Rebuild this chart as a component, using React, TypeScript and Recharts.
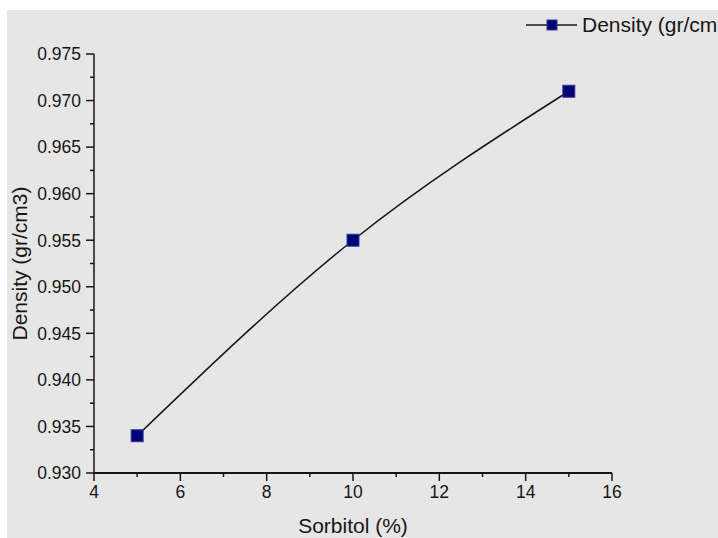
import { LineChart, Line, XAxis, YAxis, Legend } from "recharts"

const sorbitol = [5, 10, 15]
const density = [0.934, 0.955, 0.971]

const xMajor = [4, 6, 8, 10, 12, 14, 16]
const xMinor = [5, 7, 9, 11, 13, 15]
const yMajor = [0.93, 0.935, 0.94, 0.945, 0.95, 0.955, 0.96, 0.965, 0.97, 0.975]
const yMinor = [0.9325, 0.9375, 0.9425, 0.9475, 0.9525, 0.9575, 0.9625, 0.9675, 0.9725]

const seriesName = "Density (gr/cm3)"
const xTitle = "Sorbitol (%)"
const yTitle = "Density (gr/cm3)"

const data = sorbitol.map((x, i) => ({ x, y: density[i] }))

const FONT = "'Liberation Sans', Arial, sans-serif"
const INK = "#161616"
const TICK = 8
const GAP = 5

const isMajor = (list: number[], v: number) => list.some((m) => Math.abs(m - v) < 1e-7)

function YTick({ x, y, payload }: any) {
  const ax = x + TICK + GAP
  const major = isMajor(yMajor, payload.value)
  return (
    <g>
      <line x1={ax - (major ? TICK : 4)} x2={ax} y1={y} y2={y} stroke={INK} strokeWidth={1.5} />
      {major && (
        <text x={x} y={y} dy="0.36em" textAnchor="end" fontSize={17.5} fill={INK} fontFamily={FONT}>
          {payload.value.toFixed(3)}
        </text>
      )}
    </g>
  )
}

function XTick({ x, y, payload }: any) {
  const ay = y - TICK - GAP
  const major = isMajor(xMajor, payload.value)
  return (
    <g>
      <line x1={x} x2={x} y1={ay} y2={ay + (major ? TICK : 4)} stroke={INK} strokeWidth={1.5} />
      {major && (
        <text x={x} y={y} dy="0.71em" textAnchor="middle" fontSize={17.5} fill={INK} fontFamily={FONT}>
          {payload.value}
        </text>
      )}
    </g>
  )
}

function Square({ cx, cy }: any) {
  if (cx == null || cy == null) return null
  return <rect x={cx - 6} y={cy - 6} width={12} height={12} fill="#000078" stroke="#3a3a9a" strokeWidth={1} />
}

function YLabel({ viewBox }: any) {
  const cy = viewBox.y + viewBox.height / 2
  return (
    <text x={27} y={cy} transform={`rotate(-90, 27, ${cy})`} textAnchor="middle" fontSize={21} fill={INK} fontFamily={FONT}>
      {yTitle}
    </text>
  )
}

function XLabel({ viewBox }: any) {
  const cx = viewBox.x + viewBox.width / 2
  return (
    <text x={cx} y={533} textAnchor="middle" fontSize={21} fill={INK} fontFamily={FONT}>
      {xTitle}
    </text>
  )
}

function LegendBox() {
  return (
    <div style={{ display: "flex", alignItems: "center", whiteSpace: "nowrap" }}>
      <svg width={56} height={20}>
        <line x1={2} x2={53} y1={10} y2={10} stroke={INK} strokeWidth={1.5} />
        <rect x={23} y={5} width={10} height={10} fill="#000078" stroke="#3a3a9a" strokeWidth={1} />
      </svg>
      <span style={{ fontFamily: FONT, fontSize: 21, color: INK, marginLeft: 2 }}>{seriesName}</span>
    </div>
  )
}

export default function App() {
  return (
    <div style={{ position: "fixed", left: 0, top: 0, width: 718, height: 538, background: "#fff", overflow: "hidden" }}>
      <div style={{ position: "absolute", left: 7, top: 10, right: 0, bottom: 0, background: "#e6e6e6" }} />
      <div style={{ position: "absolute", left: 0, top: 0 }}>
        <LineChart width={718} height={538} data={data} margin={{ top: 54, right: 106, left: 0, bottom: 35 }}>
          <XAxis
            dataKey="x"
            type="number"
            domain={[4, 16]}
            ticks={[...xMajor, ...xMinor].sort((a, b) => a - b)}
            interval={0}
            height={30}
            tickSize={TICK}
            tickMargin={GAP}
            tickLine={false}
            tick={<XTick />}
            axisLine={{ stroke: INK, strokeWidth: 2 }}
            label={<XLabel />}
          />
          <YAxis
            type="number"
            domain={[0.93, 0.975]}
            ticks={[...yMajor, ...yMinor].sort((a, b) => a - b)}
            interval={0}
            width={94}
            tickSize={TICK}
            tickMargin={GAP}
            tickLine={false}
            tick={<YTick />}
            axisLine={{ stroke: INK, strokeWidth: 1.5 }}
            label={<YLabel />}
            allowDataOverflow
          />
          <Legend
            layout="vertical"
            align="center"
            verticalAlign="middle"
            wrapperStyle={{ top: 13, left: 524, width: 300 }}
            content={() => <LegendBox />}
          />
          <Line
            type="monotone"
            dataKey="y"
            name={seriesName}
            stroke={INK}
            strokeWidth={1.5}
            dot={<Square />}
            activeDot={false}
            isAnimationActive={false}
          />
        </LineChart>
      </div>
    </div>
  )
}
